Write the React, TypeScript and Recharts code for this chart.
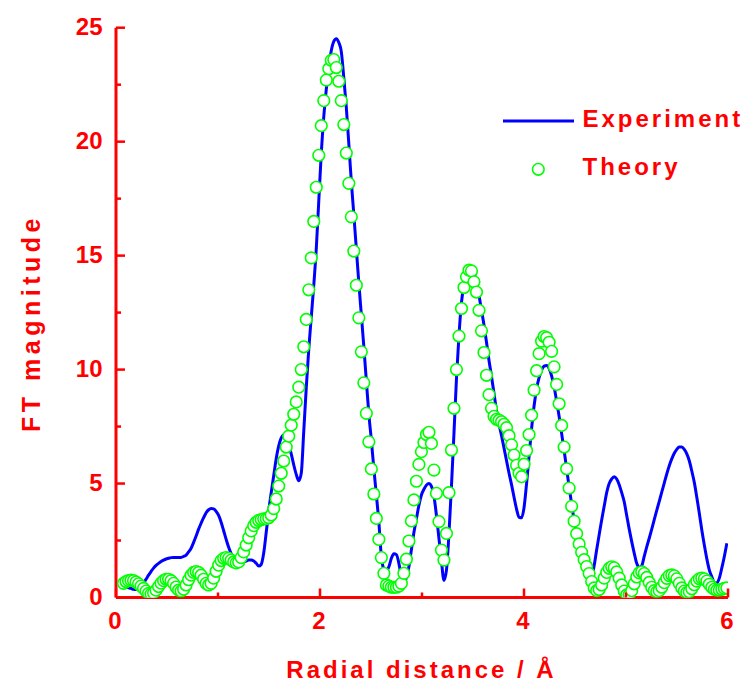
import { ComposedChart, Line, Scatter, XAxis, YAxis } from "recharts";

// FT grid of the data file: dR = pi/128, first stored point is the 3rd one
const R_STEP = Math.PI / 128;
const R_START = 3 * R_STEP;

const experiment = [
  0.5, 0.46, 0.43, 0.4, 0.36, 0.35, 0.4, 0.52, 0.64, 0.8,
  0.98, 1.14, 1.29, 1.41, 1.5, 1.58, 1.64, 1.69, 1.72, 1.75,
  1.76, 1.76, 1.76, 1.76, 1.8, 1.86, 2.0, 2.16, 2.42, 2.7,
  3.0, 3.26, 3.5, 3.72, 3.85, 3.91, 3.89, 3.78, 3.6, 3.3,
  2.93, 2.55, 2.2, 1.92, 1.74, 1.6, 1.56, 1.55, 1.57, 1.6,
  1.64, 1.64, 1.6, 1.5, 1.38, 1.45, 1.95, 2.85, 3.8, 4.6,
  5.35, 6.1, 6.65, 7.0, 7.13, 7.0, 6.72, 6.3, 5.82, 5.4,
  5.12, 5.45, 7.3, 9.2, 10.9, 12.3, 13.7, 15.3, 17.4, 19.5,
  21.1, 22.3, 23.3, 24.0, 24.4, 24.52, 24.35, 23.95, 22.8, 21.5,
  19.9, 18.25, 16.8, 15.3, 13.8, 12.4, 11.0, 9.5, 8.05, 6.9,
  5.65, 4.5, 3.3, 1.8, 1.25, 1.15, 1.35, 1.72, 1.92, 1.88,
  1.5, 0.9, 0.65, 0.88, 1.35, 2.1, 2.85, 3.45, 4.05, 4.5,
  4.75, 4.93, 5.0, 4.88, 4.45, 3.6, 2.6, 1.6, 0.75, 1.2,
  2.8, 4.9, 7.2, 9.6, 11.5, 12.95, 13.7, 14.1, 14.3, 14.35,
  14.25, 13.8, 13.25, 12.6, 11.95, 11.2, 10.4, 9.7, 8.95, 8.2,
  7.6, 7.1, 6.55, 6.0, 5.45, 4.95, 4.4, 3.88, 3.52, 3.5,
  3.95, 5.0, 6.2, 7.4, 8.4, 9.15, 9.65, 9.98, 10.15, 10.18,
  10.05, 9.72, 9.25, 8.62, 7.95, 7.2, 6.45, 5.65, 4.85, 4.1,
  3.38, 2.78, 2.35, 2.0, 1.72, 1.48, 1.2, 0.95, 1.4, 2.1,
  2.75, 3.4, 4.0, 4.6, 5.0, 5.2, 5.3, 5.2, 4.95, 4.6,
  4.2, 3.6, 3.0, 2.45, 1.95, 1.5, 1.32, 1.4, 1.8, 2.22,
  2.6, 3.0, 3.42, 3.82, 4.22, 4.62, 5.02, 5.42, 5.78, 6.08,
  6.33, 6.5, 6.6, 6.6, 6.5, 6.3, 6.0, 5.55, 5.05, 4.4,
  3.7, 2.96, 2.3, 1.7, 1.2, 0.91, 0.65, 0.63, 0.85, 1.3,
  1.8, 2.38,
];

const theory = [
  0.62, 0.7, 0.74, 0.76, 0.74, 0.68, 0.6, 0.5, 0.4, 0.28,
  0.18, 0.15, 0.2, 0.32, 0.48, 0.63, 0.74, 0.8, 0.8, 0.74,
  0.62, 0.46, 0.32, 0.28, 0.36, 0.55, 0.78, 0.98, 1.1, 1.14,
  1.1, 0.98, 0.8, 0.62, 0.55, 0.62, 0.85, 1.15, 1.42, 1.62,
  1.72, 1.75, 1.72, 1.64, 1.56, 1.52, 1.56, 1.75, 2.0, 2.3,
  2.62, 2.92, 3.15, 3.3, 3.38, 3.42, 3.45, 3.46, 3.5, 3.62,
  3.9, 4.32, 4.89, 5.45, 5.99, 6.6, 7.08, 7.56, 8.04, 8.58,
  9.23, 10.0, 11.0, 12.2, 13.5, 14.9, 16.5, 18.0, 19.4, 20.7,
  21.8, 22.7, 23.2, 23.57, 23.6, 23.25, 22.65, 21.8, 20.75, 19.5,
  18.17, 16.7, 15.2, 13.7, 12.27, 10.78, 9.42, 8.08, 6.83, 5.64,
  4.54, 3.47, 2.55, 1.75, 1.06, 0.55, 0.5, 0.45, 0.45, 0.45,
  0.5, 0.62, 1.06, 1.68, 2.48, 3.36, 4.28, 5.1, 5.84, 6.4,
  6.8, 7.15, 7.25, 6.76, 5.59, 4.57, 3.33, 2.08, 1.64, 2.81,
  4.6, 6.47, 8.3, 10.0, 11.47, 12.68, 13.6, 14.07, 14.36, 14.33,
  13.85, 13.4, 12.6, 11.7, 10.75, 9.75, 8.9, 8.3, 7.95, 7.82,
  7.78, 7.71, 7.6, 7.45, 7.1, 6.7, 6.25, 5.8, 5.45, 5.3,
  5.85, 6.45, 7.15, 8.0, 9.1, 9.95, 10.7, 11.25, 11.45, 11.4,
  11.2, 10.8, 10.12, 9.35, 8.5, 7.55, 6.6, 5.65, 4.8, 4.0,
  3.35, 2.8, 2.35, 1.98, 1.66, 1.36, 1.05, 0.7, 0.42, 0.3,
  0.35, 0.55, 0.85, 1.1, 1.28, 1.35, 1.3, 1.12, 0.85, 0.55,
  0.28, 0.12, 0.12, 0.3, 0.6, 0.9, 1.08, 1.13, 1.05, 0.88,
  0.66, 0.45, 0.3, 0.25, 0.3, 0.45, 0.65, 0.84, 0.96, 0.99,
  0.95, 0.82, 0.62, 0.42, 0.28, 0.22, 0.25, 0.38, 0.56, 0.72,
  0.82, 0.85, 0.82, 0.72, 0.58, 0.45, 0.36, 0.32, 0.33, 0.36,
  0.4, 0.42,
];

const xTicks = [0, 1, 2, 3, 4, 5, 6];
const yTicks = [0, 2.5, 5, 7.5, 10, 12.5, 15, 17.5, 20, 22.5, 25];
const xLabelled = [0, 2, 4, 6];
const yLabelled = [0, 5, 10, 15, 20, 25];

const RED = "#ff0000";
const BLUE = "#0000ff";
const GREEN = "#00ff00";
const FONT = "'Liberation Sans', Arial, sans-serif";

const data = experiment.map((v, i) => ({
  r: +(R_START + i * R_STEP).toFixed(4),
  exp: v,
  theory: theory[i],
}));

function XTick(props: any) {
  const { x, y, payload } = props;
  const major = xLabelled.includes(payload.value);
  return (
    <g>
      <line x1={x} x2={x} y1={y} y2={y - (major ? 9 : 5)} stroke={RED} strokeWidth={2.5} />
      {major && (
        <text x={x - 1} y={y + 31.5} textAnchor="middle" fill={RED}
          fontFamily={FONT} fontWeight="bold" fontSize={24}>
          {payload.value}
        </text>
      )}
    </g>
  );
}

function YTick(props: any) {
  const { x, y, payload } = props;
  const major = yLabelled.includes(payload.value);
  return (
    <g>
      <line x1={x} x2={x + (major ? 9 : 5)} y1={y} y2={y} stroke={RED} strokeWidth={2.5} />
      {major && (
        <text x={x - 13.5} y={y + 7} textAnchor="end" fill={RED}
          fontFamily={FONT} fontWeight="bold" fontSize={24}>
          {payload.value}
        </text>
      )}
    </g>
  );
}

const ring = (props: any) => (
  <circle cx={props.cx} cy={props.cy} r={5.8} fill="#ffffff" stroke={GREEN} strokeWidth={1.6} />
);

export default function App() {
  return (
    <div style={{ position: "absolute", left: 0, top: 0, width: 749, height: 685, background: "#fff" }}>
      <ComposedChart
        width={749}
        height={685}
        data={data}
        margin={{ top: 27.7, right: 21, bottom: 47.5, left: 0 }}
      >
        <XAxis
          type="number"
          dataKey="r"
          domain={[0, 6]}
          ticks={xTicks}
          interval={0}
          allowDataOverflow
          height={40}
          tickSize={0}
          tickMargin={0}
          tickLine={false}
          tick={XTick}
          axisLine={{ stroke: RED, strokeWidth: 3 }}
        />
        <YAxis
          type="number"
          domain={[0, 25]}
          ticks={yTicks}
          interval={0}
          allowDataOverflow
          width={116}
          tickSize={0}
          tickMargin={0}
          tickLine={false}
          tick={YTick}
          axisLine={{ stroke: RED, strokeWidth: 3 }}
        />
        <Line
          dataKey="exp"
          type="monotone"
          stroke={BLUE}
          strokeWidth={3}
          dot={false}
          isAnimationActive={false}
        />
        <Scatter dataKey="theory" shape={ring} isAnimationActive={false} />
      </ComposedChart>

      <svg width={749} height={685} style={{ position: "absolute", left: 0, top: 0, pointerEvents: "none" }}>
        <g fontFamily={FONT} fontWeight="bold" fill={RED}>
          <text x={421.5} y={678} textAnchor="middle" fontSize={24} letterSpacing={3}>
            Radial distance / Å
          </text>
          <text transform="translate(40,323) rotate(-90)" textAnchor="middle" fontSize={25} letterSpacing={4.5}>
            FT magnitude
          </text>
          <text x={582.5} y={126.7} fontSize={24} letterSpacing={3}>Experiment</text>
          <text x={582.5} y={175} fontSize={24} letterSpacing={3}>Theory</text>
        </g>
        <line x1={503} x2={574} y1={121} y2={121} stroke={BLUE} strokeWidth={3} />
        <circle cx={538.3} cy={169.3} r={5.8} fill="#fff" stroke={GREEN} strokeWidth={1.6} />
      </svg>
    </div>
  );
}
